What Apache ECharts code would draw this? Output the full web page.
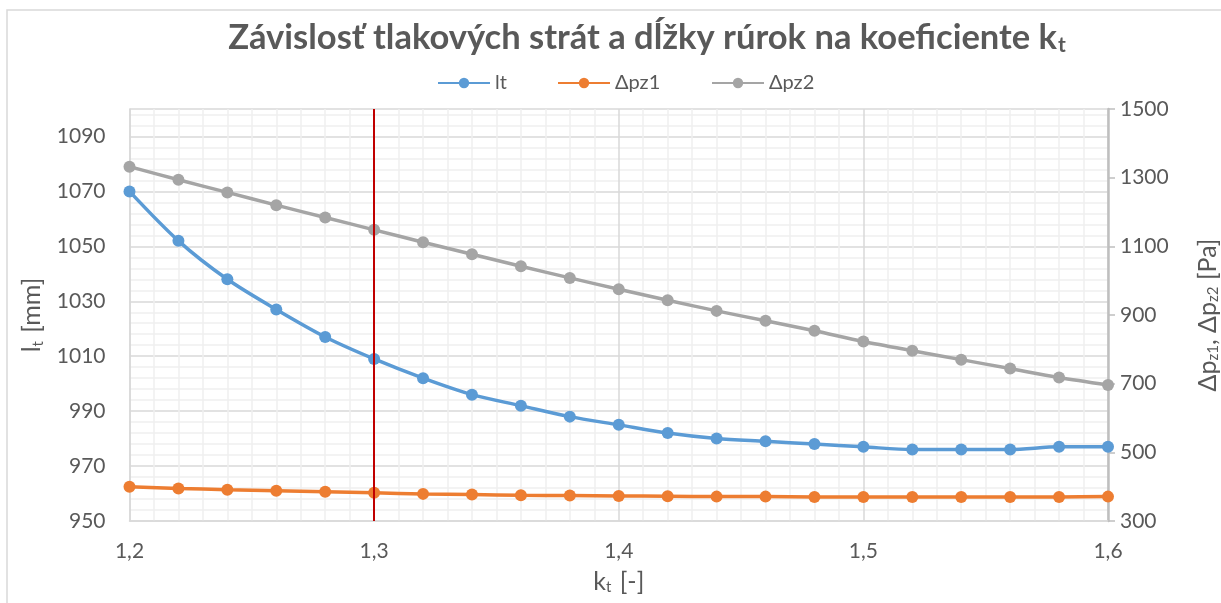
<!DOCTYPE html>
<html>
<head>
<meta charset="utf-8">
<script src="https://cdn.jsdelivr.net/npm/echarts@6/dist/echarts.min.js"></script>
<style>
  html, body { margin: 0; padding: 0; background: #fff; }
  #chart { width: 1221px; height: 603px; }
</style>
</head>
<body>
<div id="chart"></div>
<script>
// hodnoty odčítané z grafu
const kt = [1.20, 1.22, 1.24, 1.26, 1.28, 1.30, 1.32, 1.34, 1.36, 1.38, 1.40,
            1.42, 1.44, 1.46, 1.48, 1.50, 1.52, 1.54, 1.56, 1.58, 1.60];
const lt = [1070, 1052, 1038, 1027, 1017, 1009, 1002, 996, 992, 988, 985,
            982, 980, 979, 978, 977, 976, 976, 976, 977, 977];
const dpz1 = [400, 395, 391, 388, 385, 382, 379, 377, 375, 374, 373,
              372, 371, 371, 370, 370, 370, 370, 370, 370, 371];
const dpz2 = [1332, 1294, 1257, 1220, 1184, 1148, 1112, 1077, 1042, 1008, 975,
              943, 912, 883, 854, 823, 796, 770, 744, 718, 696];
const ktLabels = [1.2, 1.3, 1.4, 1.5, 1.6];
const ltTicks = [950, 970, 990, 1010, 1030, 1050, 1070, 1090];
const dpTicks = [300, 500, 700, 900, 1100, 1300, 1500];
const kMark = 1.3;

const textColor = '#595959';
const font = 'Lato';

function pairs(xs, ys) {
  return xs.map(function (x, i) { return [x, ys[i]]; });
}
function plain(v) { return String(v); }

let myChart = echarts.init(document.getElementById('chart'));

let option = {
  animation: false,
  textStyle: { fontFamily: font, color: textColor },
  graphic: [{
    type: 'rect',
    shape: { x: 7, y: 10, width: 1300, height: 700 },
    style: { fill: 'none', stroke: '#d9d9d9', lineWidth: 1.5 },
    silent: true
  }],
  title: {
    text: 'Závislosť tlakových strát a dĺžky rúrok na koeficiente k{sub|t}',
    left: 642,
    textAlign: 'center',
    top: 14,
    textStyle: {
      fontFamily: font,
      fontSize: 34.5,
      fontWeight: 'bold',
      color: textColor,
      rich: {
        sub: { fontFamily: font, fontSize: 21, fontWeight: 'bold', color: textColor, verticalAlign: 'bottom', padding: [16, 0, 0, 1] }
      }
    }
  },
  legend: [
    { data: ['lt'], left: 432 },
    { data: ['Δpz1'], left: 552 },
    { data: ['Δpz2'], left: 706 }
  ].map(function (l) {
    return Object.assign({
      top: 68,
      itemWidth: 52,
      itemHeight: 13,
      textStyle: { fontFamily: font, fontSize: 20, color: textColor },
      itemStyle: { borderWidth: 0 }
    }, l);
  }),
  grid: [{ left: 129.5, right: 113, top: 109, bottom: 82, containLabel: false, outerBoundsMode: 'none' }],
  xAxis: [{
    type: 'value',
    min: 1.2,
    max: 1.6,
    interval: 0.1,
    axisLine: { show: true, lineStyle: { color: '#d9d9d9', width: 1.5 } },
    axisTick: { show: false },
    axisLabel: {
      customValues: ktLabels,
      fontFamily: font, fontSize: 21, color: textColor, margin: 20,
      formatter: function (v) { return v.toFixed(1).replace('.', ','); }
    },
    splitLine: { show: true, lineStyle: { color: '#d9d9d9', width: 1.5 } },
    minorTick: { show: false, splitNumber: 10 },
    minorSplitLine: { show: true, lineStyle: { color: '#f0f0f0', width: 1.5 } },
    name: 'k{sub|t} [-]',
    nameLocation: 'middle',
    nameGap: 47,
    nameTextStyle: {
      fontFamily: font, fontSize: 25, color: textColor,
      rich: { sub: { fontFamily: font, fontSize: 15, color: textColor, verticalAlign: 'bottom', padding: [12, 2, 0, 0] } }
    }
  }],
  yAxis: [{
    // lt [mm]
    type: 'value',
    position: 'left',
    min: 950,
    max: 1100,
    interval: 10,
    axisLine: { show: true, lineStyle: { color: '#d9d9d9', width: 1.5 } },
    axisTick: { show: false },
    axisLabel: {
      customValues: ltTicks,
      formatter: plain,
      fontFamily: font, fontSize: 21, color: textColor, margin: 24
    },
    splitLine: { show: false },
    name: 'l{sub|t} [mm]',
    nameLocation: 'middle',
    nameRotate: 90,
    nameGap: 84,
    nameTextStyle: {
      fontFamily: font, fontSize: 25, color: textColor,
      rich: { sub: { fontFamily: font, fontSize: 15, color: textColor, verticalAlign: 'bottom', padding: [12, 2, 0, 0] } }
    }
  }, {
    // Δp [Pa]
    type: 'value',
    position: 'right',
    min: 300,
    max: 1500,
    interval: 100,
    axisLine: { show: true, lineStyle: { color: '#bfbfbf', width: 2.5 } },
    axisTick: { show: true, customValues: dpTicks, length: 7, lineStyle: { color: '#bfbfbf', width: 1.5 } },
    axisLabel: {
      customValues: dpTicks,
      formatter: plain,
      fontFamily: font, fontSize: 21, color: textColor, margin: 12
    },
    splitLine: { show: false },
    name: 'Δp{sub|z1}, Δp{sub|z2} [Pa]',
    nameLocation: 'middle',
    nameRotate: 90,
    nameGap: 86,
    nameTextStyle: {
      fontFamily: font, fontSize: 25, color: textColor,
      rich: { sub: { fontFamily: font, fontSize: 15, color: textColor, verticalAlign: 'bottom', padding: [12, 0, 0, 0] } }
    }
  }, {
    // len mriežka: 0 = 950 mm, hlavné čiary po 20, vedľajšie po 4
    type: 'value',
    position: 'left',
    min: 0,
    max: 150,
    interval: 20,
    axisLine: { show: false },
    axisTick: { show: false },
    axisLabel: { show: false },
    splitLine: { show: true, lineStyle: { color: '#d9d9d9', width: 1.5 } },
    minorTick: { show: false, splitNumber: 5 },
    minorSplitLine: { show: true, lineStyle: { color: '#f0f0f0', width: 1.5 } }
  }],
  series: [{
    name: 'lt',
    type: 'line',
    yAxisIndex: 0,
    data: pairs(kt, lt),
    smooth: 0.3,
    symbol: 'circle',
    symbolSize: 12,
    lineStyle: { color: '#5B9BD5', width: 3.5 },
    itemStyle: { color: '#5B9BD5' },
    z: 3
  }, {
    name: 'Δpz1',
    type: 'line',
    yAxisIndex: 1,
    data: pairs(kt, dpz1),
    smooth: 0.3,
    symbol: 'circle',
    symbolSize: 12,
    lineStyle: { color: '#ED7D31', width: 3.5 },
    itemStyle: { color: '#ED7D31' },
    z: 3
  }, {
    name: 'Δpz2',
    type: 'line',
    yAxisIndex: 1,
    data: pairs(kt, dpz2),
    smooth: 0.3,
    symbol: 'circle',
    symbolSize: 12,
    lineStyle: { color: '#A5A5A5', width: 3.5 },
    itemStyle: { color: '#A5A5A5' },
    z: 3,
    markLine: {
      silent: true,
      symbol: 'none',
      label: { show: false },
      lineStyle: { color: '#C00000', width: 2, type: 'solid' },
      data: [{ xAxis: kMark }],
      z: 4
    }
  }]
};

myChart.setOption(option);
</script>
</body>
</html>
